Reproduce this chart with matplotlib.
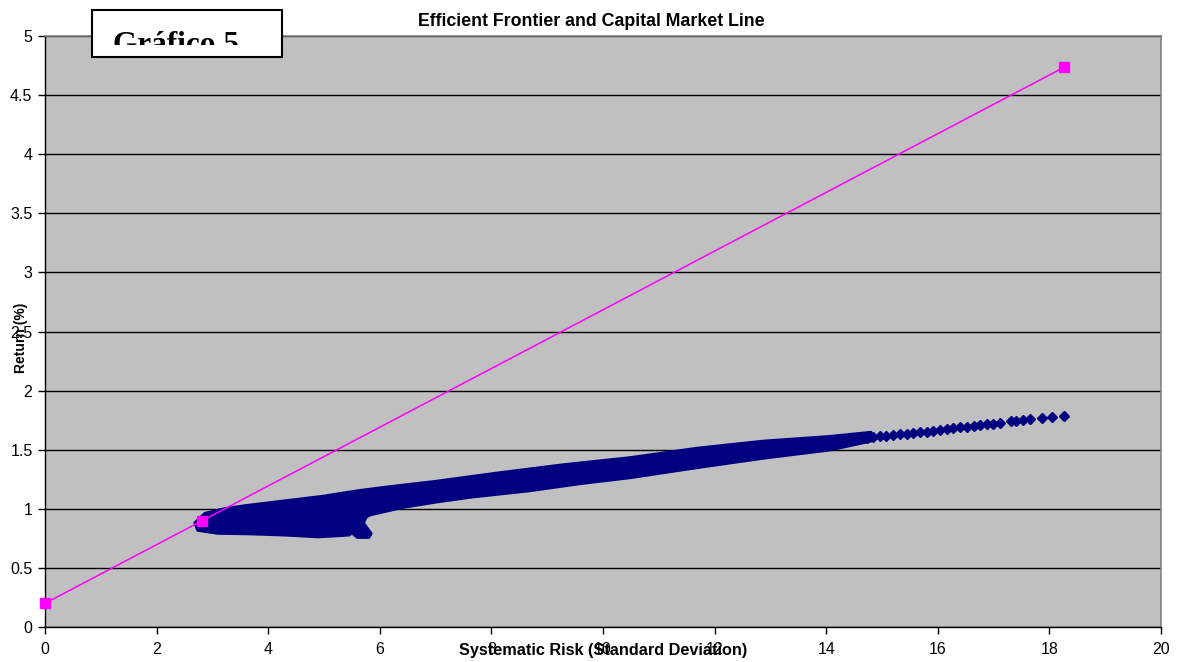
import matplotlib
matplotlib.use("Agg")
import matplotlib.pyplot as plt
from matplotlib.patches import Rectangle
from matplotlib.transforms import Bbox, TransformedBbox

plt.rcParams['font.family'] = ['Liberation Sans', 'DejaVu Sans']

# dense part of the portfolio cloud: outline (risk, return)
cloud_upper_x = [2.69, 2.87, 3.23, 3.6, 4.3, 5.0, 5.6, 6.09, 7.0, 8.1, 9.28, 10.48, 11.68,
                 12.87, 14.07, 14.8]
cloud_upper_y = [0.88, 0.96, 1.00, 1.025, 1.065, 1.105, 1.15, 1.18, 1.23, 1.30, 1.37, 1.43, 1.51,
                 1.57, 1.61, 1.645]
cloud_lower_x = [2.69, 2.74, 3.1, 3.7, 4.3, 4.9, 5.45, 5.5, 5.6, 5.8, 5.84, 5.7, 5.75, 5.82,
                 6.42, 7.02, 7.62, 8.69, 9.59, 10.48, 11.68, 12.87, 14.07, 14.8]
cloud_lower_y = [0.88, 0.82, 0.795, 0.79, 0.78, 0.765, 0.78, 0.80, 0.76, 0.76, 0.79, 0.88, 0.93, 0.95,
                 1.015, 1.06, 1.10, 1.155, 1.215, 1.265, 1.35, 1.43, 1.50, 1.575]

# sparse high-risk portfolios
tail_x = [14.73, 14.84, 14.96, 15.08, 15.20, 15.32, 15.44, 15.56, 15.68, 15.80, 15.92,
          16.04, 16.16, 16.28, 16.40, 16.52, 16.64, 16.76, 16.88, 16.99, 17.11, 17.32,
          17.41, 17.53, 17.65, 17.87, 18.05, 18.26]
tail_y = [1.597, 1.610, 1.613, 1.618, 1.624, 1.630, 1.633, 1.644, 1.650, 1.652, 1.658,
          1.667, 1.675, 1.681, 1.690, 1.695, 1.703, 1.709, 1.715, 1.717, 1.729, 1.740,
          1.746, 1.751, 1.757, 1.766, 1.774, 1.785]

# capital market line: risk-free, tangency portfolio, leveraged end
cml_x = [0, 2.81, 18.26]
cml_y = [0.2, 0.898, 4.735]

navy = '#000080'

fig = plt.figure(figsize=(11.77, 6.62), dpi=100)
ax = fig.add_axes([45 / 1177, 35 / 662, 1116 / 1177, 591 / 662])
ax.set_facecolor('#C0C0C0')

poly_x = cloud_upper_x + cloud_lower_x[::-1]
poly_y = cloud_upper_y + cloud_lower_y[::-1]
ax.fill(poly_x, poly_y, color=navy, lw=2.5, ec=navy, joinstyle='round', zorder=3)
ax.plot(tail_x, tail_y, 'D', color=navy, ms=5.5, mec=navy, ls='none', zorder=3)

ax.plot(cml_x, cml_y, color='#FF00FF', lw=1.1, marker='s', ms=6.5, zorder=4, clip_on=False)

ax.set_xlim(0, 20)
ax.set_ylim(0, 5)
ax.set_xticks(range(0, 21, 2))
ax.set_yticks([0, 0.5, 1, 1.5, 2, 2.5, 3, 3.5, 4, 4.5, 5])
ax.set_yticklabels(['0', '0.5', '1', '1.5', '2', '2.5', '3', '3.5', '4', '4.5', '5'])
ax.yaxis.grid(True, color='black', lw=1)
ax.set_axisbelow(True)
ax.tick_params(axis='both', direction='out', length=5, width=1, labelsize=11.5, colors='black')
ax.tick_params(axis='x', pad=6)
ax.tick_params(axis='y', pad=4)
for side in ['top', 'right']:
    ax.spines[side].set_color('#808080')
    ax.spines[side].set_linewidth(1.2)
for side in ['left', 'bottom']:
    ax.spines[side].set_color('black')
    ax.spines[side].set_linewidth(1)

fig.text(591 / 1177, 1 - 21 / 662, 'Efficient Frontier and Capital Market Line',
         ha='center', va='center', fontsize=12.8, fontweight='bold')
fig.text(603 / 1177, 1 - 651 / 662, 'Systematic Risk (Standard Deviation)',
         ha='center', va='center', fontsize=11.7, fontweight='bold')
fig.text(21 / 1177, 1 - 338 / 662, 'Return (%)', rotation=90,
         ha='center', va='center', fontsize=10, fontweight='bold')

# "Gráfico 5" caption box, text cut off at the bottom of its frame
box = Rectangle((92 / 1177, 1 - 57 / 662), 190 / 1177, 47 / 662, transform=fig.transFigure,
                facecolor='white', edgecolor='black', lw=1.5, zorder=10)
fig.add_artist(box)
caption = fig.text(113 / 1177, 1 - 53 / 662, 'Gráfico 5', ha='left', va='baseline',
                   fontsize=22.5, fontweight='bold', family='Liberation Serif', zorder=11)
clip = TransformedBbox(Bbox.from_extents(92 / 1177, 1 - 45 / 662, 282 / 1177, 1 - 10 / 662),
                       fig.transFigure)
caption.set_clip_box(clip)
caption.set_clip_on(True)

fig.savefig('out.png', dpi=100)
